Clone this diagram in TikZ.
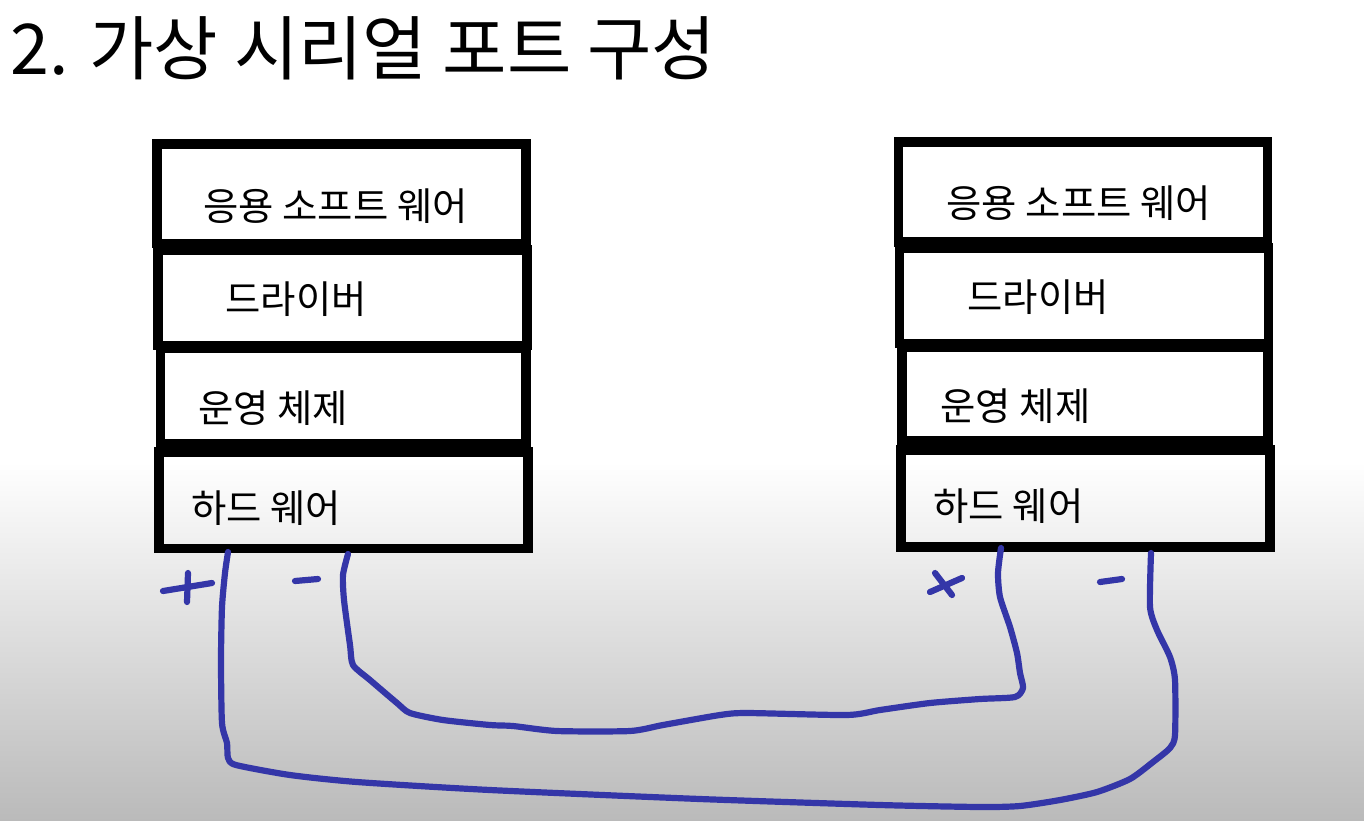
\documentclass[tikz,border=0pt]{standalone}
\usepackage{fontspec}
\newfontfamily\kofont{Noto Sans CJK KR}
\definecolor{pen}{RGB}{52,54,168}
\begin{document}
\begin{tikzpicture}[x=0.5pt, y=-0.5pt, layer/.style={draw, line width=4.75pt, minimum width=184.5pt, minimum height=48pt, inner sep=0pt}, lbl/.style={anchor=west, inner sep=0pt, font=\kofont\fontsize{19.2pt}{22pt}\selectfont}, wire/.style={draw=pen, line width=3.1pt, line cap=round, line join=round}]
	\useasboundingbox (0,0) rectangle (1364,820);
	\fill[white] (0,0) rectangle (1364,820);
	\shade[top color=white, bottom color=black!27] (0,462) rectangle (1364,820);
	\node[anchor=west, inner sep=0pt, font=\kofont\fontsize{35pt}{40pt}\selectfont] (title) at (10,48) {2. 가상 시리얼 포트 구성};
	% left computer
	\node[layer, minimum height=49.75pt] (lapp) at (341.25,193.75) {};
	\node[layer, minimum height=47.75pt] (ldrv) at (342.25,297.75) {};
	\node[layer, minimum width=182.75pt] (los) at (343.25,396) {};
	\node[layer, minimum height=48.25pt] (lhw) at (343.5,500.25) {};
	\node[lbl] at (203,206) {응용 소프트 웨어};
	\node[lbl] at (225,299) {드라이버};
	\node[lbl] at (198,408) {운영 체제};
	\node[lbl] at (191,508) {하드 웨어};
	% right computer
	\node[layer, minimum height=50pt] (rapp) at (1083,192) {};
	\node[layer, minimum height=47.75pt] (rdrv) at (1083.75,295.75) {};
	\node[layer, minimum width=183pt, minimum height=47pt] (ros) at (1085,394) {};
	\node[layer, minimum height=48.5pt] (rhw) at (1085.5,498.5) {};
	\node[lbl] at (946,203) {응용 소프트 웨어};
	\node[lbl] at (967,297) {드라이버};
	\node[lbl] at (940,406) {운영 체제};
	\node[lbl] at (933,506) {하드 웨어};
	% terminals
	\coordinate (lp) at (228,552);
	\coordinate (lm) at (348,554);
	\coordinate (rp) at (1001,548);
	\coordinate (rm) at (1151,553);
	\draw[wire] (163,591) -- (212,583) (188,573) -- (187,602);
	\draw[wire] (295,581) -- (318,579);
	\draw[wire] (930,592) -- (962,578) (935,573) -- (952,595);
	\draw[wire] (1100,582) -- (1122,579);
	% cables
	\draw[wire] plot[smooth, tension=0.4] coordinates {(lp) (225,573) (222,607) (221,660) (222,723) (227,743) (228,758) (236,765) (290,775) (357,782) (490,790) (700,799) (880,805) (980,807) (1020,806) (1060,800) (1097,792) (1130,779) (1153,762) (1170,748) (1175,735) (1175,680) (1170,657) (1157,630) (1150,607) (rm)};
	\draw[wire] plot[smooth, tension=0.4] coordinates {(lm) (343,575) (344,600) (350,645) (353,665) (370,680) (397,703) (410,713) (443,720) (490,725) (513,726) (557,731) (630,731) (663,725) (720,715) (747,713) (847,715) (880,710) (930,703) (980,699) (1015,697) (1023,688) (1020,673) (1017,653) (1010,627) (1000,597) (998,573) (rp)};
\end{tikzpicture}
\end{document}
